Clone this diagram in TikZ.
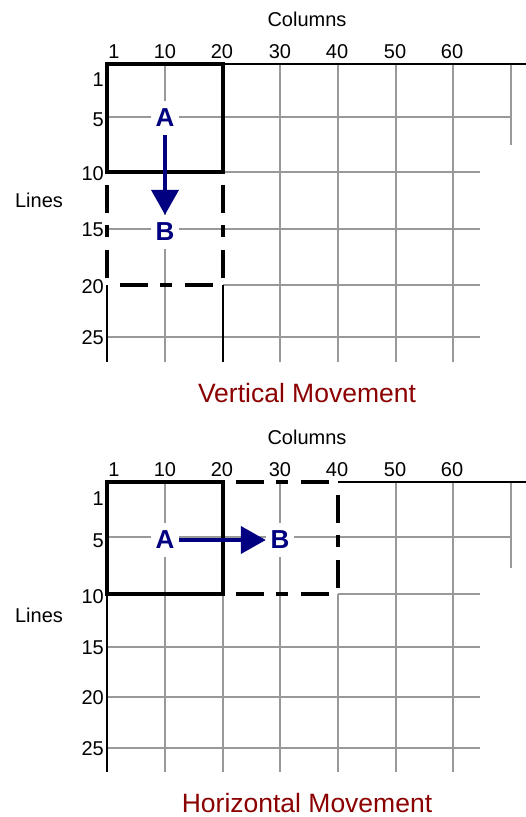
\documentclass[tikz,border=0pt]{standalone}
\usepackage{fontspec}
\setmainfont{Liberation Sans}
\usetikzlibrary{arrows.meta}
\definecolor{gridx}{HTML}{999999}
\definecolor{navyx}{HTML}{000080}
\definecolor{titlex}{HTML}{8B0000}
\tikzset{
  gl/.style={gridx,line width=2pt},
  axisline/.style={black,line width=2.5pt},
  solidbox/.style={black,line width=4pt},
  dashbox/.style={black,line width=4.5pt,dash pattern=on 28pt off 12pt on 12pt off 13pt,dash phase=52pt},
  lbl/.style={font=\fontsize{20}{24}\selectfont,inner sep=0pt},
  letter/.style={fill=white,text=navyx,font=\fontsize{26}{30}\selectfont\bfseries,minimum width=28pt,minimum height=34pt,inner sep=0pt},
  ar/.style={-{Triangle[length=25pt,width=27pt]},navyx,line width=4pt},
  ttl/.style={text=titlex,font=\fontsize{26.5}{30}\selectfont,inner sep=0pt}
}
\begin{document}
\begin{tikzpicture}[x=1pt,y=-1pt]
\useasboundingbox (0,0) rectangle (526,817);
% vertical movement
\foreach \gx in {165,280,338,396,453} \draw[gl] (\gx,64) -- (\gx,362);
\draw[gl] (511,64) -- (511,145);
\draw[gl] (107,117) -- (511,117);
\draw[gl] (223,172) -- (480,172);
\draw[gl] (107,229) -- (480,229);
\draw[gl] (223,285) -- (480,285);
\draw[gl] (107,337) -- (480,337);
\draw[axisline] (223,64) -- (526,64);
\draw[axisline] (107,285) -- (107,362);
\draw[axisline] (223,285) -- (223,362);
\draw[solidbox] (107,64) rectangle (223,172);
\draw[dashbox] (107,172) -- (107,285);
\draw[dashbox] (107,285) -- (223,285);
\draw[dashbox] (223,172) -- (223,285);
\node[lbl] (colsT) at (307,19) {Columns};
\foreach \gx/\gt in {114/1,165/10,222/20,280/30,337/40,395/50,452/60}
  \node[lbl] (cT\gt) at (\gx,52) {\gt};
\foreach \gy/\gt in {80/1,120/5,174/10,230/15,287/20,338/25}
  \node[lbl,anchor=east] (rT\gt) at (104,\gy) {\gt};
\node[lbl] (linesT) at (39,200) {Lines};
\node[letter] (Atop) at (165,118) {A};
\node[letter] (Btop) at (165,232) {B};
\draw[ar] (Atop) -- (Btop);
\node[ttl] (titleT) at (307,393) {Vertical Movement};
% horizontal movement
\foreach \gx in {165,223,280,396,453} \draw[gl] (\gx,482) -- (\gx,772);
\draw[gl] (338,594) -- (338,772);
\draw[gl] (511,482) -- (511,568);
\draw[gl] (107,537) -- (511,537);
\draw[gl] (338,594) -- (480,594);
\foreach \gy in {647,697,748} \draw[gl] (107,\gy) -- (480,\gy);
\draw[axisline] (338,482) -- (526,482);
\draw[axisline] (107,594) -- (107,772);
\draw[solidbox] (107,482) rectangle (223,594);
\draw[dashbox] (223,482) -- (338,482);
\draw[dashbox] (338,482) -- (338,594);
\draw[dashbox] (223,594) -- (338,594);
\node[lbl] (colsB) at (307,437) {Columns};
\foreach \gx/\gt in {114/1,165/10,222/20,280/30,337/40,395/50,452/60}
  \node[lbl] (cB\gt) at (\gx,470) {\gt};
\foreach \gy/\gt in {499/1,541/5,597/10,648/15,698/20,749/25}
  \node[lbl,anchor=east] (rB\gt) at (104,\gy) {\gt};
\node[lbl] (linesB) at (39,615) {Lines};
\node[letter] (Abot) at (165,540) {A};
\node[letter] (Bbot) at (280,540) {B};
\draw[ar] (Abot) -- (Bbot);
\node[ttl] (titleB) at (307,803) {Horizontal Movement};
\end{tikzpicture}
\end{document}
